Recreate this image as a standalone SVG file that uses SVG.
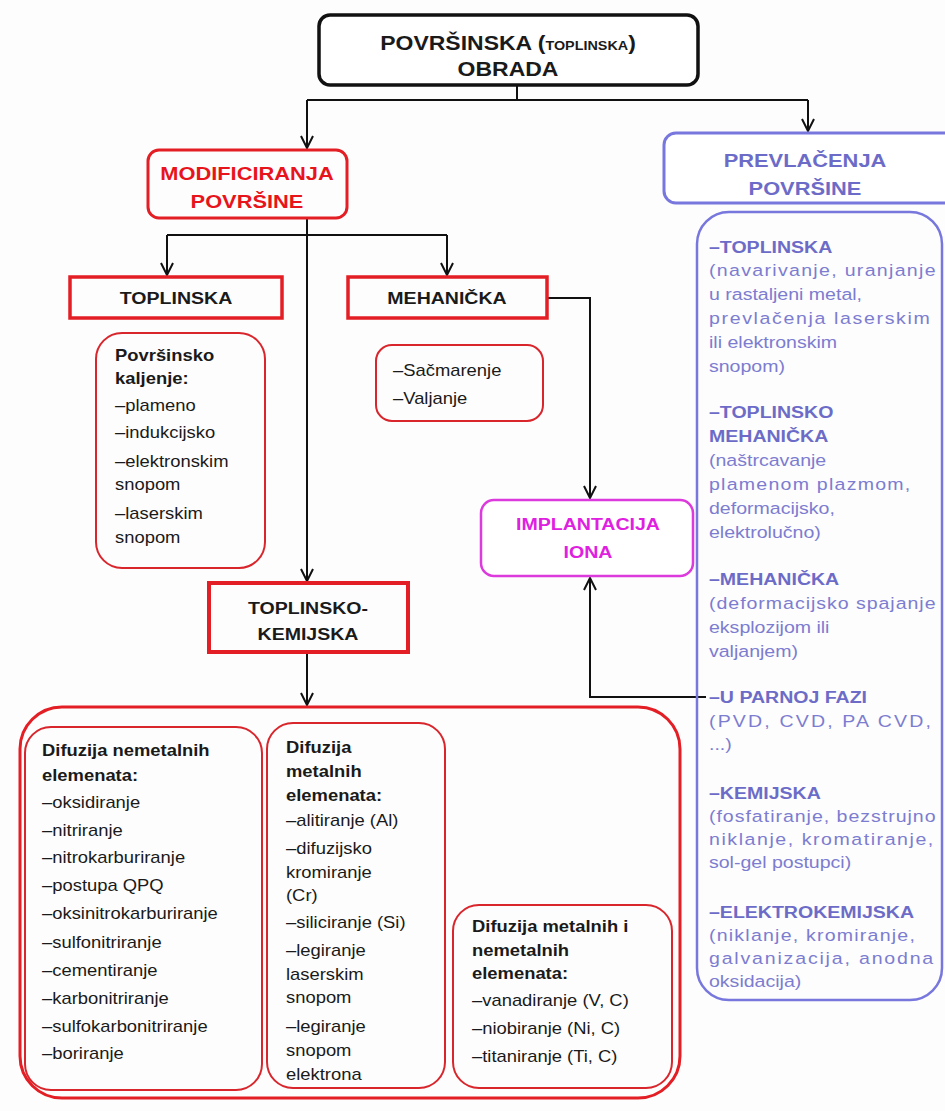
<svg xmlns="http://www.w3.org/2000/svg" width="945" height="1111" viewBox="0 0 945 1111">
<defs>
<marker id="arr" viewBox="0 0 14 14" refX="13" refY="7" markerWidth="14" markerHeight="14" markerUnits="userSpaceOnUse" orient="auto"><path d="M1,1 L13,7 L1,13" fill="none" stroke="#111" stroke-width="2"/></marker>
</defs>
<style>
text{font-family:"Liberation Sans",Arial,sans-serif;fill:#1a1a1a}
.b{font-weight:bold}
.s16{font-size:16px}
.red{fill:#e8141c;font-weight:bold}
.pur{fill:#7c7cd0;font-size:17px}
.ph{fill:#6c6cc8;font-weight:bold}
.mag{fill:#e020e0;font-weight:bold;font-size:17px}
.bx{fill:none;stroke:#e31e24}
.in{fill:none;stroke:#d8262c;stroke-width:2}
.con path{fill:none;stroke:#111;stroke-width:2}
</style>
<rect width="945" height="1111" fill="#fdfdfd"/>

<g class="con" id="connectors">
<path d="M517,85 V100 M307,100 H808"/>
<path d="M307,100 V148" marker-end="url(#arr)"/>
<path d="M808,100 V131" marker-end="url(#arr)"/>
<path d="M307,218 V235 M167,235 H447"/>
<path d="M167,235 V275" marker-end="url(#arr)"/>
<path d="M447,235 V275" marker-end="url(#arr)"/>
<path d="M307,235 V581" marker-end="url(#arr)"/>
<path d="M547,298 H590 V498" marker-end="url(#arr)"/>
<path d="M706,697 H590 V578" marker-end="url(#arr)"/>
<path d="M307,653 V705" marker-end="url(#arr)"/>
</g>

<g id="top">
<rect x="319" y="15" width="379" height="70" rx="11" fill="#fff" stroke="#111" stroke-width="3.5"/>
<text class="b" font-size="20" text-anchor="middle" transform="translate(508,50) scale(1.15,1)">POVRŠINSKA (<tspan font-size="12.5">TOPLINSKA</tspan>)</text>
<text class="b" font-size="20" text-anchor="middle" transform="translate(508,76) scale(1.15,1)">OBRADA</text>
</g>

<g id="modificiranja">
<rect x="148" y="150" width="199" height="68" rx="11" fill="#fff" class="bx" stroke-width="3"/>
<g transform="translate(247,0) scale(1.15,1)" text-anchor="middle" font-size="19">
<text class="red" y="180">MODIFICIRANJA</text>
<text class="red" y="208">POVRŠINE</text>
</g>
</g>

<g id="prevlacenja">
<rect x="664" y="133" width="295" height="70" rx="12" fill="#fff" stroke="#7777dd" stroke-width="3"/>
<g transform="translate(805,0) scale(1.15,1)" text-anchor="middle" font-size="19">
<text class="ph" y="167">PREVLAČENJA</text>
<text class="ph" y="195">POVRŠINE</text>
</g>
</g>

<g id="prevlacenja-list">
<rect x="697" y="212" width="245" height="788" rx="32" fill="none" stroke="#7777dd" stroke-width="2.5"/>
<g transform="translate(709,0) scale(1.15,1)">
<text class="pur ph" y="253">–TOPLINSKA</text>
<text class="pur" y="276" textLength="197" lengthAdjust="spacing">(navarivanje, uranjanje</text>
<text class="pur" y="300">u rastaljeni metal,</text>
<text class="pur" y="324" textLength="192" lengthAdjust="spacing">prevlačenja laserskim</text>
<text class="pur" y="348">ili elektronskim</text>
<text class="pur" y="372">snopom)</text>
<text class="pur ph" y="418">–TOPLINSKO</text>
<text class="pur ph" y="442">MEHANIČKA</text>
<text class="pur" y="466">(naštrcavanje</text>
<text class="pur" y="490" textLength="175" lengthAdjust="spacing">plamenom plazmom,</text>
<text class="pur" y="514">deformacijsko,</text>
<text class="pur" y="538">elektrolučno)</text>
<text class="pur ph" y="585">–MEHANIČKA</text>
<text class="pur" y="609" textLength="197" lengthAdjust="spacing">(deformacijsko spajanje</text>
<text class="pur" y="633">eksplozijom ili</text>
<text class="pur" y="657">valjanjem)</text>
<text class="pur ph" y="703">–U PARNOJ FAZI</text>
<text class="pur" y="727" textLength="193" lengthAdjust="spacing">(PVD, CVD, PA CVD,</text>
<text class="pur" y="750">...)</text>
<text class="pur ph" y="799">–KEMIJSKA</text>
<text class="pur" y="822" textLength="197" lengthAdjust="spacing">(fosfatiranje, bezstrujno</text>
<text class="pur" y="845" textLength="195" lengthAdjust="spacing">niklanje, kromatiranje,</text>
<text class="pur" y="868">sol-gel postupci)</text>
<text class="pur ph" y="918">–ELEKTROKEMIJSKA</text>
<text class="pur" y="941" textLength="179" lengthAdjust="spacing">(niklanje, kromiranje,</text>
<text class="pur" y="964" textLength="195" lengthAdjust="spacing">galvanizacija, anodna</text>
<text class="pur" y="987">oksidacija)</text>
</g>
</g>

<g id="toplinska">
<rect x="70" y="277" width="212" height="41" fill="#fff" class="bx" stroke-width="3.5"/>
<text class="b" font-size="17" text-anchor="middle" transform="translate(176,304) scale(1.15,1)">TOPLINSKA</text>
</g>

<g id="mehanicka">
<rect x="348" y="277" width="199" height="41" fill="#fff" class="bx" stroke-width="3.5"/>
<text class="b" font-size="17" text-anchor="middle" transform="translate(447,304) scale(1.15,1)">MEHANIČKA</text>
</g>

<g id="kaljenje">
<rect x="96" y="333" width="169" height="235" rx="26" class="in"/>
<g transform="translate(115,0) scale(1.15,1)" class="s16">
<text class="b s16" y="361">Površinsko</text>
<text class="b s16" y="384">kaljenje:</text>
<text class="s16" y="411">–plameno</text>
<text class="s16" y="438">–indukcijsko</text>
<text class="s16" y="467">–elektronskim</text>
<text class="s16" y="490">snopom</text>
<text class="s16" y="519">–laserskim</text>
<text class="s16" y="543">snopom</text>
</g>
</g>

<g id="mehanicka-list">
<rect x="376" y="345" width="167" height="76" rx="16" class="in"/>
<g transform="translate(393,0) scale(1.15,1)">
<text class="s16" y="376">–Sačmarenje</text>
<text class="s16" y="404">–Valjanje</text>
</g>
</g>

<g id="implantacija">
<rect x="481" y="500" width="212" height="76" rx="13" fill="#fff" stroke="#dc3adc" stroke-width="2.5"/>
<g transform="translate(588,0) scale(1.15,1)" text-anchor="middle">
<text class="mag" y="530">IMPLANTACIJA</text>
<text class="mag" y="558">IONA</text>
</g>
</g>

<g id="toplinsko-kemijska">
<rect x="209" y="583" width="199" height="69" fill="#fff" class="bx" stroke-width="4"/>
<g transform="translate(308,0) scale(1.15,1)" text-anchor="middle" font-size="17">
<text class="b" y="614">TOPLINSKO-</text>
<text class="b" y="640">KEMIJSKA</text>
</g>
</g>

<g id="kemijska-group">
<rect x="20" y="707" width="660" height="391" rx="42" class="bx" stroke-width="3"/>
</g>

<g id="nemetalni">
<rect x="25" y="727" width="237" height="363" rx="26" class="in"/>
<g transform="translate(42,0) scale(1.15,1)">
<text class="b s16" y="756">Difuzija nemetalnih</text>
<text class="b s16" y="781">elemenata:</text>
<text class="s16" y="808">–oksidiranje</text>
<text class="s16" y="836">–nitriranje</text>
<text class="s16" y="863">–nitrokarburiranje</text>
<text class="s16" y="891">–postupa QPQ</text>
<text class="s16" y="919">–oksinitrokarburiranje</text>
<text class="s16" y="948">–sulfonitriranje</text>
<text class="s16" y="976">–cementiranje</text>
<text class="s16" y="1004">–karbonitriranje</text>
<text class="s16" y="1032">–sulfokarbonitriranje</text>
<text class="s16" y="1059">–boriranje</text>
</g>
</g>

<g id="metalni">
<rect x="267" y="723" width="178" height="365" rx="26" class="in"/>
<g transform="translate(286,0) scale(1.15,1)">
<text class="b s16" y="753">Difuzija</text>
<text class="b s16" y="777">metalnih</text>
<text class="b s16" y="801">elemenata:</text>
<text class="s16" y="826">–alitiranje (Al)</text>
<text class="s16" y="854">–difuzijsko</text>
<text class="s16" y="878">kromiranje</text>
<text class="s16" y="901">(Cr)</text>
<text class="s16" y="928">–siliciranje (Si)</text>
<text class="s16" y="956">–legiranje</text>
<text class="s16" y="980">laserskim</text>
<text class="s16" y="1003">snopom</text>
<text class="s16" y="1032">–legiranje</text>
<text class="s16" y="1056">snopom</text>
<text class="s16" y="1080">elektrona</text>
</g>
</g>

<g id="metalni-nemetalni">
<rect x="453" y="905" width="219" height="183" rx="26" class="in"/>
<g transform="translate(472,0) scale(1.15,1)">
<text class="b s16" y="932">Difuzija metalnih i</text>
<text class="b s16" y="956">nemetalnih</text>
<text class="b s16" y="979">elemenata:</text>
<text class="s16" y="1006">–vanadiranje (V, C)</text>
<text class="s16" y="1034">–niobiranje (Ni, C)</text>
<text class="s16" y="1062">–titaniranje (Ti, C)</text>
</g>
</g>
</svg>
